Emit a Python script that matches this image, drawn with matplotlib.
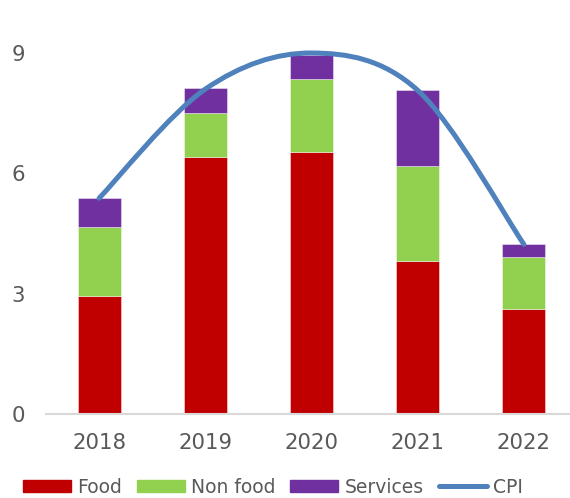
import numpy as np
import matplotlib
matplotlib.use('Agg')
import matplotlib.pyplot as plt
from matplotlib.path import Path
from matplotlib.patches import PathPatch, Patch
from matplotlib.lines import Line2D

years    = ['2018', '2019', '2020', '2021', '2022']
food     = [2.94, 6.41, 6.53, 3.81, 2.63]
non_food = [1.71, 1.09, 1.82, 2.37, 1.28]
services = [0.73, 0.62, 0.60, 1.89, 0.32]
cpi      = [5.38, 8.10, 9.00, 8.07, 4.23]

FOOD_C = '#C00000'
NONF_C = '#92D050'
SERV_C = '#7030A0'
CPI_C  = '#4F81BD'
TXT_C  = '#595959'

plt.rcParams['font.family'] = 'DejaVu Sans'

W, H = 570, 498
fig = plt.figure(figsize=(W / 100, H / 100), dpi=100)
ax = fig.add_axes([46 / W, 1 - 414 / H, 531 / W, (414 - 53) / H])

x = np.arange(len(years))
bw = 0.405
edge = dict(edgecolor=(1, 1, 1, 0.5), linewidth=0.6)
ax.bar(x, food, bw, color=FOOD_C, **edge)
ax.bar(x, non_food, bw, bottom=food, color=NONF_C, **edge)
bottom2 = [a + b for a, b in zip(food, non_food)]
ax.bar(x, services, bw, bottom=bottom2, color=SERV_C, **edge)

# smoothed CPI line (Excel-style Bezier through the data points)
pts = np.column_stack([x, cpi]).astype(float)
verts = [tuple(pts[0])]
codes = [Path.MOVETO]
n = len(pts)
for i in range(n - 1):
    p0 = pts[i - 1] if i > 0 else pts[i]
    p1, p2 = pts[i], pts[i + 1]
    p3 = pts[i + 2] if i + 2 < n else pts[i + 1]
    c1 = p1 + (p2 - p0) / 6
    c2 = p2 - (p3 - p1) / 6
    verts += [tuple(c1), tuple(c2), tuple(p2)]
    codes += [Path.CURVE4] * 3
ax.add_patch(PathPatch(Path(verts, codes), facecolor='none', edgecolor=CPI_C,
                       lw=3.6, capstyle='round', clip_on=False, zorder=3))

ax.set_xlim(-0.5, 4.5)
ax.set_ylim(0, 9)
ax.set_yticks([0, 3, 6, 9])
ax.set_xticks(x)
ax.set_xticklabels(years)
for s in ['top', 'right', 'left']:
    ax.spines[s].set_visible(False)
ax.spines['bottom'].set_color('#D9D9D9')
ax.spines['bottom'].set_linewidth(1.5)
ax.tick_params(axis='both', length=0, labelsize=15.3, colors=TXT_C)
ax.tick_params(axis='y', pad=15)
ax.tick_params(axis='x', pad=14)

handles = [Patch(color=FOOD_C), Patch(color=NONF_C), Patch(color=SERV_C),
           Line2D([0], [0], color=CPI_C, lw=3.6, solid_capstyle='round')]
leg = fig.legend(handles, ['Food', 'Non food', 'Services', 'CPI'],
                 loc='center left', bbox_to_anchor=(23 / W, 1 - 487 / H),
                 ncol=4, frameon=False, fontsize=13.5, handlelength=2.56,
                 handleheight=0.59, handletextpad=0.32, columnspacing=0.8,
                 borderpad=0, borderaxespad=0)
for t in leg.get_texts():
    t.set_color(TXT_C)

fig.savefig('out.png', dpi=100)
